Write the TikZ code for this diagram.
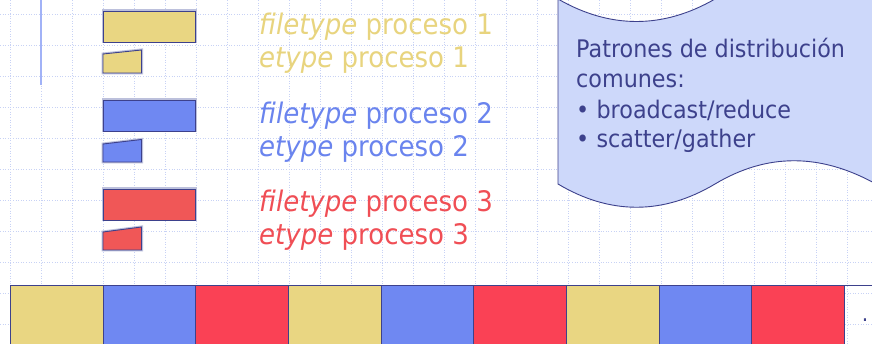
\documentclass[tikz,border=0pt]{standalone}
\usepackage{fontspec}
\setmainfont{DejaVu Sans}[FakeStretch=0.92]
\definecolor{ylw}{HTML}{E9D682}
\definecolor{blu}{HTML}{6F88F2}
\definecolor{rdl}{HTML}{F05757}
\definecolor{rdb}{HTML}{FA4155}
\definecolor{ylwtxt}{HTML}{E8D47E}
\definecolor{blutxt}{HTML}{6A84EE}
\definecolor{rdtxt}{HTML}{F04E55}
\definecolor{navy}{HTML}{3D418C}
\definecolor{gridc}{HTML}{C8D2F5}
\definecolor{halo}{HTML}{BCC0DC}
\definecolor{bubble}{HTML}{CDD8FA}
\tikzset{
  gridline/.style={gridc, line width=0.8pt, dash pattern=on 1pt off 1.6pt},
  block/.style={draw=navy, line width=0.9pt, preaction={draw=halo, line width=3pt}},
  cell/.style={draw=navy, line width=0.9pt},
  lbl/.style={anchor=base west, inner sep=0pt, font=\fontsize{28.3}{32}\selectfont},
  note/.style={anchor=base west, inner sep=0pt, text=navy, font=\fontsize{24.2}{28}\selectfont},
}
\begin{document}
\begin{tikzpicture}[x=1pt,y=-1pt]
\useasboundingbox (0,0) rectangle (872,344);
\fill[white] (0,0) rectangle (872,344);
% background grid
\foreach \i in {0,...,27} \draw[gridline] (10.3+31*\i,0) -- (10.3+31*\i,344);
\foreach \j in {0,...,10} \draw[gridline] (0,14.5+31*\j) -- (872,14.5+31*\j);
% vertical rule at the left
\draw[color=blu!65, line width=1.5pt] (41,0) -- (41,85);
% type blocks
\draw[block, fill=ylw] (103,11) rectangle (195.5,42);
\draw[block, fill=ylw] (103,54) -- (141.5,50) -- (141.5,73) -- (103,73) -- cycle;
\draw[block, fill=blu] (103,100) rectangle (195.5,131);
\draw[block, fill=blu] (103,144) -- (141.5,139.5) -- (141.5,162) -- (103,162) -- cycle;
\draw[block, fill=rdl] (103,189) rectangle (195.5,220);
\draw[block, fill=rdl] (103,232) -- (141.5,227) -- (141.5,250) -- (103,250) -- cycle;
% labels
\node[lbl, text=ylwtxt] (f1) at (259,35) {\textit{filetype} proceso 1};
\node[lbl, text=ylwtxt] (e1) at (259,68) {\textit{etype} proceso 1};
\node[lbl, text=blutxt] (f2) at (259,124) {\textit{filetype} proceso 2};
\node[lbl, text=blutxt] (e2) at (259,157) {\textit{etype} proceso 2};
\node[lbl, text=rdtxt] (f3) at (259,212) {\textit{filetype} proceso 3};
\node[lbl, text=rdtxt] (e3) at (259,245) {\textit{etype} proceso 3};
% tape-shaped note
\draw[fill=bubble, draw=navy, line width=0.9pt]
  (558,-1) -- (558,184)
  .. controls (610,215) and (663,215) .. (715,184)
  .. controls (767,153) and (820,153) .. (876,184)
  -- (876,-1)
  .. controls (820,-31) and (767,-31) .. (715,-1)
  .. controls (663,29) and (610,29) .. (558,-1) -- cycle;
\node[note] (n1) at (576,58) {Patrones de distribución};
\node[note] (n2) at (576,88) {comunes:};
\node[note] (n3) at (576,119) {•\hspace{0.3em}broadcast/reduce};
\node[note] (n4) at (576,148) {•\hspace{0.3em}scatter/gather};
% distribution strip
\foreach \k/\c in {0/ylw,1/blu,2/rdb,3/ylw,4/blu,5/rdb,6/ylw,7/blu,8/rdb}
  \draw[cell, fill=\c] (10.3+92.7*\k,285) rectangle (10.3+92.7*\k+92.7,350);
\draw[cell] (844,285) -- (872,285);
\node[anchor=base, inner sep=0pt, text=navy, font=\fontsize{22}{26}\selectfont] (dots) at (865,321) {.};
\end{tikzpicture}
\end{document}
